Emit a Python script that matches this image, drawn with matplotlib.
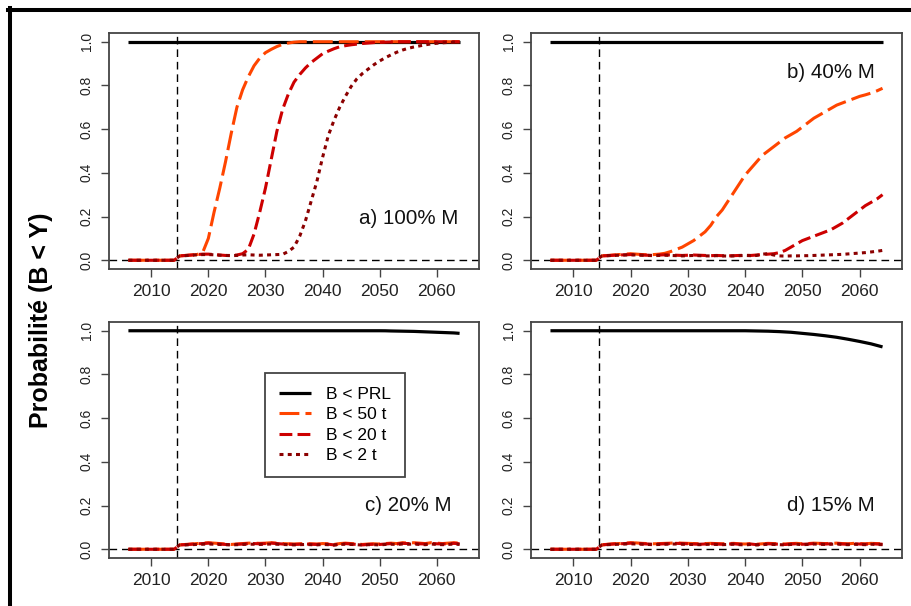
import matplotlib
matplotlib.use("Agg")
import matplotlib.pyplot as plt
from matplotlib.lines import Line2D

plt.rcParams['font.family'] = ['Liberation Sans', 'DejaVu Sans']

years = list(range(2006, 2065))
labels = ["B < PRL", "B < 50 t", "B < 20 t", "B < 2 t"]
panel_titles = ["a) 100% M", "b) 40% M", "c) 20% M", "d) 15% M"]
xticks = [2010, 2020, 2030, 2040, 2050, 2060]
yticks = [0.0, 0.2, 0.4, 0.6, 0.8, 1.0]
ytick_labels = ["0.0", "0.2", "0.4", "0.6", "0.8", "1.0"]
ref_year = 2014.5

# ---- panel a) 100% M
a_prl = [1.0] * 59
a_50t = [0.0] * 9 + [
    0.020, 0.022, 0.024, 0.026, 0.035, 0.100, 0.220, 0.330, 0.450, 0.580,
    0.700, 0.780, 0.840, 0.890, 0.925, 0.950, 0.965, 0.978, 0.988, 0.994,
    0.998, 1.0, 1.0, 1.0, 1.0, 1.0, 1.0, 1.0, 1.0, 1.0,
] + [1.0] * 20
a_20t = [0.0] * 9 + [
    0.020, 0.022, 0.024, 0.026, 0.028, 0.028, 0.026, 0.024, 0.022, 0.022,
    0.024, 0.030, 0.050, 0.120, 0.220, 0.330, 0.460, 0.590, 0.690, 0.760,
    0.815, 0.850, 0.880, 0.905, 0.925, 0.945, 0.957, 0.968, 0.977, 0.982,
    0.986, 0.989, 0.992, 0.994, 0.996, 0.997, 0.998, 0.999, 1.0, 1.0,
] + [1.0] * 10
a_2t = [0.0] * 9 + [
    0.020, 0.021, 0.023, 0.025, 0.026, 0.026, 0.025, 0.023, 0.022, 0.021,
    0.022, 0.024, 0.025, 0.024, 0.023, 0.024, 0.025, 0.026, 0.027, 0.040,
    0.060, 0.110, 0.180, 0.270, 0.360, 0.470, 0.570, 0.640, 0.700, 0.750,
    0.795, 0.830, 0.855, 0.875, 0.895, 0.912, 0.927, 0.940, 0.952, 0.962,
    0.970, 0.976, 0.981, 0.986, 0.990, 0.993, 0.995, 0.997, 0.998, 0.999,
]

# ---- panel b) 40% M
b_prl = [1.0] * 59
b_50t = [0.0] * 9 + [
    0.020, 0.022, 0.024, 0.026, 0.028, 0.030, 0.028, 0.026, 0.025, 0.026,
    0.028, 0.032, 0.040, 0.050, 0.060, 0.075, 0.090, 0.110, 0.130, 0.160,
    0.200, 0.230, 0.270, 0.310, 0.350, 0.390, 0.420, 0.450, 0.480, 0.500,
    0.520, 0.540, 0.560, 0.575, 0.590, 0.610, 0.630, 0.650, 0.665, 0.680,
    0.695, 0.710, 0.720, 0.730, 0.740, 0.750, 0.757, 0.765, 0.775, 0.787,
]
b_20t = [0.0] * 9 + [
    0.020, 0.021, 0.023, 0.024, 0.025, 0.026, 0.025, 0.024, 0.023, 0.022,
    0.024, 0.025, 0.024, 0.023, 0.022, 0.023, 0.024, 0.023, 0.022, 0.021,
    0.022, 0.021, 0.020, 0.021, 0.022, 0.023, 0.022, 0.024, 0.026, 0.028,
    0.030, 0.035, 0.045, 0.060, 0.075, 0.090, 0.100, 0.110, 0.120, 0.130,
    0.140, 0.155, 0.170, 0.190, 0.210, 0.230, 0.250, 0.265, 0.280, 0.300,
]
b_2t = [0.0] * 9 + [
    0.020, 0.021, 0.022, 0.023, 0.024, 0.025, 0.024, 0.023, 0.022, 0.021,
    0.022, 0.023, 0.022, 0.021, 0.020, 0.021, 0.022, 0.021, 0.020, 0.020,
    0.021, 0.020, 0.019, 0.020, 0.021, 0.022, 0.021, 0.022, 0.028, 0.030,
    0.024, 0.020, 0.019, 0.020, 0.020, 0.021, 0.021, 0.022, 0.023, 0.024,
    0.025, 0.026, 0.027, 0.029, 0.031, 0.033, 0.035, 0.038, 0.041, 0.045,
]

# ---- panel c) 20% M
c_prl = [1.0] * 44 + [
    1.0, 0.9998, 0.999, 0.9985, 0.998, 0.9975, 0.997, 0.996,
    0.995, 0.994, 0.993, 0.992, 0.991, 0.990, 0.988,
]
c_50t = [0.0] * 9 + [
    0.020, 0.022, 0.024, 0.026, 0.028, 0.030, 0.028, 0.026, 0.024, 0.022,
    0.024, 0.026, 0.028, 0.028, 0.027, 0.028, 0.030, 0.028, 0.026, 0.025,
    0.024, 0.025, 0.026, 0.025, 0.024, 0.026, 0.025, 0.022, 0.026, 0.028,
    0.026, 0.024, 0.022, 0.024, 0.025, 0.024, 0.026, 0.028, 0.026, 0.030,
    0.028, 0.030, 0.028, 0.026, 0.030, 0.028, 0.026, 0.028, 0.030, 0.028,
]
c_20t = [0.0] * 9 + [
    0.020, 0.021, 0.023, 0.025, 0.026, 0.028, 0.026, 0.024, 0.022, 0.021,
    0.023, 0.024, 0.026, 0.026, 0.025, 0.026, 0.028, 0.026, 0.024, 0.023,
    0.022, 0.023, 0.024, 0.023, 0.022, 0.024, 0.023, 0.020, 0.024, 0.026,
    0.024, 0.022, 0.020, 0.022, 0.023, 0.022, 0.024, 0.026, 0.024, 0.027,
    0.026, 0.027, 0.025, 0.024, 0.027, 0.025, 0.024, 0.025, 0.027, 0.025,
]
c_2t = [0.0] * 9 + [
    0.020, 0.020, 0.021, 0.022, 0.023, 0.024, 0.023, 0.022, 0.021, 0.020,
    0.021, 0.022, 0.023, 0.023, 0.022, 0.023, 0.024, 0.023, 0.022, 0.021,
    0.020, 0.021, 0.022, 0.021, 0.020, 0.022, 0.021, 0.019, 0.022, 0.023,
    0.022, 0.021, 0.019, 0.021, 0.021, 0.020, 0.022, 0.023, 0.022, 0.024,
    0.023, 0.024, 0.022, 0.021, 0.024, 0.022, 0.021, 0.022, 0.024, 0.022,
]

# ---- panel d) 15% M
d_prl = [1.0] * 34 + [
    1.0, 0.9995, 0.999, 0.9985, 0.998, 0.997, 0.996, 0.9945, 0.993, 0.9905,
    0.988, 0.9855, 0.983, 0.980, 0.977, 0.9735, 0.970, 0.9655, 0.961, 0.956,
    0.951, 0.9455, 0.940, 0.933, 0.926,
]
d_50t = [0.0] * 9 + [
    0.020, 0.023, 0.025, 0.026, 0.028, 0.030, 0.029, 0.027, 0.026, 0.025,
    0.026, 0.027, 0.028, 0.029, 0.028, 0.027, 0.026, 0.025, 0.026, 0.027,
    0.026, 0.025, 0.026, 0.027, 0.025, 0.024, 0.026, 0.023, 0.025, 0.027,
    0.026, 0.025, 0.024, 0.026, 0.027, 0.025, 0.026, 0.028, 0.027, 0.026,
    0.027, 0.028, 0.026, 0.025, 0.027, 0.026, 0.025, 0.027, 0.026, 0.025,
]
d_20t = [0.0] * 9 + [
    0.020, 0.022, 0.024, 0.025, 0.026, 0.028, 0.027, 0.025, 0.024, 0.023,
    0.024, 0.025, 0.026, 0.027, 0.026, 0.025, 0.024, 0.023, 0.024, 0.025,
    0.024, 0.023, 0.024, 0.025, 0.023, 0.022, 0.024, 0.021, 0.023, 0.025,
    0.024, 0.023, 0.022, 0.024, 0.025, 0.023, 0.024, 0.026, 0.025, 0.024,
    0.025, 0.026, 0.024, 0.023, 0.025, 0.024, 0.023, 0.025, 0.024, 0.023,
]
d_2t = [0.0] * 9 + [
    0.020, 0.021, 0.022, 0.023, 0.024, 0.025, 0.024, 0.023, 0.022, 0.021,
    0.022, 0.023, 0.024, 0.024, 0.023, 0.022, 0.022, 0.021, 0.022, 0.023,
    0.022, 0.021, 0.022, 0.023, 0.021, 0.020, 0.022, 0.020, 0.021, 0.023,
    0.022, 0.021, 0.020, 0.022, 0.023, 0.021, 0.022, 0.024, 0.023, 0.022,
    0.023, 0.024, 0.022, 0.021, 0.023, 0.022, 0.021, 0.023, 0.022, 0.021,
]

panels = [
    [a_prl, a_50t, a_20t, a_2t],
    [b_prl, b_50t, b_20t, b_2t],
    [c_prl, c_50t, c_20t, c_2t],
    [d_prl, d_50t, d_20t, d_2t],
]
title_y = [0.19, 0.86, 0.20, 0.20]

colors = ["black", "#FF4500", "#CD0000", "#8B0000"]
dashes = [None, (6.5, 2.0), (4.2, 1.7), (1.3, 1.4)]
lws = [2.3, 2.2, 2.2, 2.2]

W, H = 912, 606
fig = plt.figure(figsize=(W / 100, H / 100), dpi=100)

# axes boxes in pixel coords: (left, top, right, bottom)
boxes = [
    (109, 33, 479, 269),
    (531, 33, 902, 269),
    (109, 322, 479, 558),
    (531, 322, 902, 558),
]
spine_col = "#444444"
axes = []
for i, (l, t, r, b) in enumerate(boxes):
    ax = fig.add_axes([l / W, 1 - b / H, (r - l) / W, (b - t) / H])
    axes.append(ax)
    ax.set_xlim(2002.6, 2067.4)
    ax.set_ylim(-0.04, 1.04)
    for k, series in enumerate(panels[i]):
        ln, = ax.plot(years, series, color=colors[k], lw=lws[k],
                      label=labels[k], solid_capstyle="butt", zorder=3 + k)
        if dashes[k] is not None:
            ln.set_dashes(dashes[k])
    ax.axhline(0, color="black", lw=1.0, dashes=(5.5, 3.5), zorder=2)
    ax.axvline(ref_year, color="black", lw=1.0, dashes=(5.5, 3.5), zorder=2)
    ax.set_xticks(xticks)
    ax.set_xticklabels([str(x) for x in xticks], fontsize=12.5, color="#222222")
    ax.set_yticks(yticks)
    ax.set_yticklabels(ytick_labels, fontsize=10, rotation=90,
                       va="center", color="#222222")
    ax.tick_params(axis="both", direction="out", length=5.8, width=1.0,
                   color=spine_col)
    ax.tick_params(axis="x", pad=5)
    ax.tick_params(axis="y", pad=5)
    for s in ax.spines.values():
        s.set_color(spine_col)
        s.set_linewidth(1.3)
    ax.text(2055, title_y[i], panel_titles[i], ha="center", va="center",
            fontsize=14.8, color="#111111")

leg = axes[2].legend(loc="upper left", bbox_to_anchor=(0.4216, 0.784),
                     fontsize=12.5, handlelength=1.85, handletextpad=0.85,
                     labelspacing=0.3, borderpad=0.8, borderaxespad=0.0,
                     fancybox=False, framealpha=1.0, edgecolor=spine_col)
leg.get_frame().set_linewidth(1.3)

fig.text(41 / W, 1 - 320 / H, "Probabilité (B < Y)", rotation=90,
         ha="center", va="center", fontsize=18, fontweight="bold")

# outer black frame (top and left edges visible)
fig.add_artist(Line2D([8.3 / W, 1.0], [1 - 10.3 / H, 1 - 10.3 / H],
                      transform=fig.transFigure, color="black", lw=2.9))
fig.add_artist(Line2D([10.3 / W, 10.3 / W], [0.0, 1 - 8.3 / H],
                      transform=fig.transFigure, color="black", lw=2.9))

fig.savefig("out.png", dpi=100)
